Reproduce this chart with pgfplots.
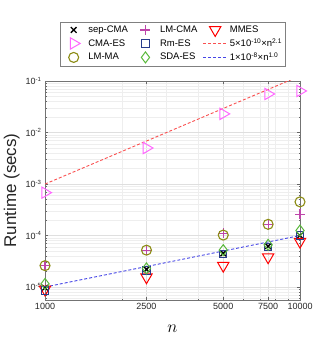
\documentclass[border=0pt]{standalone}
\usepackage{fontspec}
\setmainfont{Liberation Sans}
\usepackage{pgfplots}
\pgfplotsset{compat=1.18}
\definecolor{cmacol}{RGB}{255,102,255}
\definecolor{lmmacol}{RGB}{140,140,20}
\definecolor{lmcmacol}{RGB}{190,70,170}
\definecolor{rmcol}{RGB}{40,60,140}
\definecolor{sdacol}{RGB}{90,185,60}
\definecolor{fitred}{RGB}{250,80,80}
\definecolor{fitblue}{RGB}{70,70,230}
\definecolor{tickgray}{RGB}{38,38,38}
\pgfplotsset{
    mk/.style={only marks, #1, legend image code/.code={\draw[##1, #1, draw=#1]
        plot coordinates {(12pt,0pt)}; \path (0pt,0pt) (24pt,0pt);}},
    fit/.style={#1, dash pattern=on 3pt off 2pt, line width=0.9pt,
        legend image code/.code={\draw[draw=#1, dash pattern=on 3pt off 2pt, line width=1.4pt]
        (0pt,0pt) -- (24pt,0pt);}},
}

\begin{document}
\begin{tikzpicture}
\begin{axis}[
    scale only axis,
    width=255pt, height=219pt,
    xmode=log, ymode=log,
    xmin=1000, xmax=10000,
    ymin=5.6e-6, ymax=0.1,
    xtick={1000,2500,5000,7500,10000},
    xticklabels={1000,2500,5000,7500,10000},
    minor xtick={2000,3000,4000,6000,7000,8000,9000},
    ytick={1e-5,1e-4,1e-3,1e-2,1e-1},
    yticklabels={10\textsuperscript{-5},10\textsuperscript{-4},10\textsuperscript{-3},10\textsuperscript{-2},10\textsuperscript{-1}},
    minor ytick={6e-6,7e-6,8e-6,9e-6,
        2e-5,3e-5,4e-5,5e-5,6e-5,7e-5,8e-5,9e-5,
        2e-4,3e-4,4e-4,5e-4,6e-4,7e-4,8e-4,9e-4,
        2e-3,3e-3,4e-3,5e-3,6e-3,7e-3,8e-3,9e-3,
        2e-2,3e-2,4e-2,5e-2,6e-2,7e-2,8e-2,9e-2},
    grid=both,
    major grid style={gray!25, line width=0.4pt},
    minor grid style={gray!13, line width=0.4pt},
    tick align=inside,
    major tick length=3pt, minor tick length=1.5pt,
    every tick/.style={black!60},
    axis line style={black!55},
    ticklabel style={font=\fontsize{9}{10}\selectfont, text=tickgray},
    xlabel={$n$},
    xlabel style={font=\fontsize{17}{18}\selectfont, yshift=-8pt},
    ylabel={Runtime (secs)},
    ylabel style={font=\fontsize{17}{18}\selectfont, text=tickgray, yshift=-1pt},
    legend columns=3,
    legend style={at={(0.5,1.068)}, anchor=south, draw=black!50,
        font=\fontsize{9.5}{11}\selectfont, inner xsep=1pt, inner ysep=1.5pt,
        /tikz/every even column/.append style={column sep=3pt},
        /tikz/every row/.append style={row sep=1pt},
        cells={anchor=west}},
]
% row 1 of legend: sep-CMA, LM-CMA, MMES
\addplot[mk=black, mark=x, mark size=4pt, line width=1.3pt] coordinates {
    (1000,9.7e-6) (2500,2.2e-5) (5000,4.5e-5) (7500,6.2e-5) (10000,1.0e-4)
};
\addlegendentry{sep-CMA}
\addplot[mk=lmcmacol, mark=+, mark size=5pt, line width=1.1pt] coordinates {
    (1000,2.6e-5) (2500,5.2e-5) (5000,1.1e-4) (7500,1.65e-4) (10000,2.6e-4)
};
\addlegendentry{LM-CMA}
\addplot[mk=red, mark=triangle, mark size=6.5pt, line width=1pt,
    mark options={rotate=180}] coordinates {
    (1000,9.0e-6) (2500,1.55e-5) (5000,2.6e-5) (7500,3.8e-5) (10000,7.6e-5)
};
\addlegendentry{MMES}
% row 2: CMA-ES, Rm-ES, fit 1
\addplot[mk=cmacol, mark=triangle, mark size=6.5pt, line width=1pt,
    mark options={rotate=-90}] coordinates {
    (1000,6.8e-4) (2500,5.0e-3) (5000,2.3e-2) (7500,5.6e-2) (10000,6.4e-2)
};
\addlegendentry{CMA-ES}
\addplot[mk=rmcol, mark=square, mark size=3.6pt, line width=1pt] coordinates {
    (1000,8.6e-6) (2500,2.1e-5) (5000,4.4e-5) (7500,6.0e-5) (10000,1.0e-4)
};
\addlegendentry{Rm-ES}
\addplot[fit=fitred] coordinates {
    (1000,9.98e-4) (10000,0.1256)
};
\addlegendentry{5×10\textsuperscript{-10}×n\textsuperscript{2.1}}
% row 3: LM-MA, SDA-ES, fit 2
\addplot[mk=lmmacol, mark=o, mark size=5pt, line width=1.1pt] coordinates {
    (1000,2.6e-5) (2500,5.2e-5) (5000,1.02e-4) (7500,1.65e-4) (10000,4.5e-4)
};
\addlegendentry{LM-MA}
\addplot[mk=sdacol, mark=diamond, mark size=5.5pt, line width=1pt] coordinates {
    (1000,1.15e-5) (2500,2.3e-5) (5000,5.2e-5) (7500,6.6e-5) (10000,1.25e-4)
};
\addlegendentry{SDA-ES}
\addplot[fit=fitblue] coordinates {
    (1000,1e-5) (10000,1e-4)
};
\addlegendentry{1×10\textsuperscript{-8}×n\textsuperscript{1.0}}
\end{axis}
\path (current axis.south west) ++(-45pt,-39pt) rectangle ++(332pt,339pt);
\end{tikzpicture}
\end{document}
